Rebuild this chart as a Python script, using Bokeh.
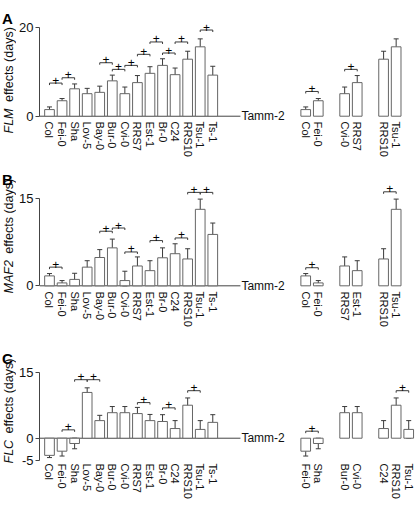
from math import pi
from bokeh.plotting import figure
from bokeh.models import ColumnDataSource, Whisker, TeeHead, Label, FixedTicker, Range1d
from bokeh.layouts import column, row
from bokeh.embed import file_html
from bokeh.resources import INLINE
from bokeh.core.properties import value

# ---------------- data ----------------
strains = ["Col", "Fei-0", "Sha", "Lov-5", "Bay-0", "Bur-0", "Cvi-0", "RRS7",
           "Est-1", "Br-0", "C24", "RRS10", "Tsu-1", "Ts-1"]
reference_line = "Tamm-2"

flm_mean = [1.5, 3.5, 6.2, 5.1, 5.4, 8.0, 5.1, 7.6, 9.7, 11.5, 9.4, 12.9, 15.7, 9.3]
flm_err = [0.6, 0.5, 1.1, 1.2, 1.4, 1.3, 1.5, 1.6, 1.5, 1.5, 1.5, 1.8, 1.8, 2.0]
flm_pairs = [("Col", "Fei-0"), ("Fei-0", "Sha"), ("Bay-0", "Bur-0"), ("Bur-0", "Cvi-0"),
             ("Cvi-0", "RRS7"), ("RRS7", "Est-1"), ("Est-1", "Br-0"), ("Br-0", "C24"),
             ("C24", "RRS10"), ("Tsu-1", "Ts-1")]
flm_pair_level = [7.5, 8.7, 12.1, 10.6, 11.5, 14.0, 16.8, 14.3, 16.8, 19.5]
flm_groups = [["Col", "Fei-0"], ["Cvi-0", "RRS7"], ["RRS10", "Tsu-1"]]
flm_group_pairs = [("Col", "Fei-0"), ("Cvi-0", "RRS7")]
flm_group_pair_level = [5.6, 10.6]

maf_mean = [1.7, 0.5, 1.1, 3.2, 4.85, 6.5, 0.9, 3.4, 2.6, 4.8, 5.5, 4.6, 13.1, 8.8]
maf_err = [0.4, 0.4, 1.05, 1.1, 1.35, 1.5, 1.6, 1.55, 1.7, 1.7, 1.7, 1.75, 1.75, 1.95]
maf_pairs = [("Col", "Fei-0"), ("Bay-0", "Bur-0"), ("Bur-0", "Cvi-0"), ("Cvi-0", "RRS7"),
             ("Est-1", "Br-0"), ("C24", "RRS10"), ("RRS10", "Tsu-1"), ("Tsu-1", "Ts-1")]
maf_pair_level = [3.2, 9.35, 9.9, 5.8, 7.75, 8.2, 16.0, 16.0]
maf_groups = [["Col", "Fei-0"], ["RRS7", "Est-1"], ["RRS10", "Tsu-1"]]
maf_group_pairs = [("Col", "Fei-0"), ("RRS10", "Tsu-1")]
maf_group_pair_level = [3.1, 16.1]

flc_mean = [-3.9, -2.95, -1.2, 10.4, 4.0, 5.8, 5.8, 5.6, 4.0, 3.8, 2.2, 7.5, 2.0, 3.6]
flc_err = [0.5, 1.1, 1.2, 1.05, 1.2, 1.4, 1.4, 1.4, 1.4, 1.55, 1.8, 1.65, 2.0, 1.75]
flc_pairs = [("Fei-0", "Sha"), ("Sha", "Lov-5"), ("Lov-5", "Bay-0"), ("RRS7", "Est-1"),
             ("Br-0", "C24"), ("RRS10", "Tsu-1")]
flc_pair_level = [1.9, 13.3, 13.3, 8.1, 6.9, 10.8]
flc_groups = [["Fei-0", "Sha"], ["Bur-0", "Cvi-0"], ["C24", "RRS10", "Tsu-1"]]
flc_group_pairs = [("Fei-0", "Sha"), ("RRS10", "Tsu-1")]
flc_group_pair_level = [1.6, 10.8]

# ---------------- style / layout ----------------
FONT = "Liberation Sans"
BAR_LINE = "#666666"
ERR_COLOR = "#3a3a3a"
AXIS_COLOR = "#444444"
TXT = "#111111"
SLOT = 10
BAR_W = 7.7
GROUP_START = 204
GROUP_STEP = 31
X_START = -7.96
X_END = 291.4
LAB_W = 16
MAIN_W = 399
BORDER_L = 23
# approximate advance widths (em) of Liberation Sans, used to butt the italic gene
# name against the plain part of the rotated axis title
EM = {"F": .611, "L": .556, "M": .833, "A": .667, "2": .556, "C": .722}
REST = "effects (days)"
REST_EM = 5.99
WIDTH_FIX = 1.08
YLAB_FS = 12.5


def label_column(letter, gene, height, frame_h, ylab_bottom, letter_y):
    """Narrow figure holding the panel letter and the rotated y-axis title.
    Its frame matches the main panel's frame; y is measured in pixels from the
    bottom of the canvas."""
    border_b = height - frame_h
    f = figure(width=LAB_W, height=height, title=None, output_backend="svg",
               toolbar_location=None, x_range=Range1d(0, LAB_W),
               y_range=Range1d(border_b, height),
               x_axis_location=None, y_axis_location=None,
               min_border=0, min_border_left=0, min_border_right=0,
               min_border_top=0, min_border_bottom=border_b)
    f.outline_line_color = None
    f.xgrid.visible = False
    f.ygrid.visible = False
    gw = sum(EM[c] for c in gene) * YLAB_FS
    sp = 0.278 * YLAB_FS
    rw = REST_EM * YLAB_FS * WIDTH_FIX
    cx = 8.0
    f.text(x=[cx], y=[ylab_bottom + gw / 2], text=[gene], angle=pi / 2, text_align="center",
           text_baseline="middle", text_font=value(FONT), text_font_style=value("italic"),
           text_font_size=f"{YLAB_FS}px", text_color=TXT)
    f.text(x=[cx], y=[ylab_bottom + gw + sp + rw / 2], text=[REST],
           angle=pi / 2, text_align="center", text_baseline="middle", text_font=value(FONT),
           text_font_size=f"{YLAB_FS}px", text_color=TXT)
    f.text(x=[1.5], y=[letter_y], text=[letter], text_align="left",
           text_baseline="alphabetic", text_font=value(FONT),
           text_font_style=value("bold"), text_font_size="15px", text_color="#000000")
    return f


def make_panel(means, errs, pairs, levels, groups, gpairs, glevels,
               ppu, y_end, height, frame_h, standoff, yticks, ybounds):
    y_start = y_end - frame_h / ppu
    border_b = height - frame_h
    p = figure(width=MAIN_W, height=height, title=None,
               x_range=Range1d(X_START, X_END), y_range=Range1d(y_start, y_end),
               output_backend="svg", toolbar_location=None,
               min_border_left=BORDER_L, min_border_right=0, min_border_top=0,
               min_border_bottom=border_b)
    p.outline_line_color = None
    p.xgrid.visible = False
    p.ygrid.visible = False

    idx = {s: i for i, s in enumerate(strains)}
    pos = {("main", s): i * SLOT for i, s in enumerate(strains)}
    xs = [i * SLOT for i in range(len(strains))]
    ms = list(means)
    es = list(errs)
    labs = list(strains)
    for k, grp in enumerate(groups):
        for j, s in enumerate(grp):
            x = GROUP_START + k * GROUP_STEP + j * SLOT
            pos[("grp", s)] = x
            xs.append(x)
            ms.append(means[idx[s]])
            es.append(errs[idx[s]])
            labs.append(s)

    # error bars do not cross the zero line (as in the original figure)
    upper = [min(m + e, 0) if m < 0 else m + e for m, e in zip(ms, es)]
    lower = [max(m - e, 0) if m > 0 else m - e for m, e in zip(ms, es)]
    src = ColumnDataSource(dict(x=xs, top=ms, upper=upper, lower=lower))

    # reference (Tamm-2) baseline
    line_end = (len(strains) - 1) * SLOT + 22
    p.segment(x0=[X_START], y0=[0], x1=[line_end], y1=[0], line_color=AXIS_COLOR, line_width=1)
    p.add_layout(Label(x=line_end, y=0, text=reference_line, x_offset=1,
                       text_baseline="middle", text_align="left",
                       text_font=FONT, text_font_size="12px", text_color=TXT))

    p.vbar(x="x", top="top", bottom=0, width=BAR_W, source=src,
           fill_color="white", line_color=BAR_LINE, line_width=1)
    p.add_layout(Whisker(source=src, base="x", upper="upper", lower="lower",
                         line_color=ERR_COLOR, line_width=1,
                         upper_head=TeeHead(size=5, line_color=ERR_COLOR, line_width=1),
                         lower_head=TeeHead(size=5, line_color=ERR_COLOR, line_width=1)))

    # significance brackets
    tick = 2.0 / ppu
    bx, by, px, py = [], [], [], []
    for kind, prs, lvs in (("main", pairs, levels), ("grp", gpairs, glevels)):
        for (a, b), lv in zip(prs, lvs):
            xa, xb = pos[(kind, a)], pos[(kind, b)]
            bx.append([xa, xa, xb, xb])
            by.append([lv - tick, lv, lv, lv - tick])
            px.append((xa + xb) / 2)
            py.append(lv)
    p.multi_line(xs=bx, ys=by, line_color=ERR_COLOR, line_width=1)
    p.text(x=px, y=py, text=["+"] * len(px), text_align="center", text_baseline="alphabetic",
           y_offset=-3, text_font=value(FONT), text_font_size="12px", text_color="#000000")

    # y axis
    ya = p.yaxis[0]
    ya.ticker = FixedTicker(ticks=yticks)
    ya.major_label_overrides = {t: str(t) for t in yticks}
    ya.bounds = ybounds
    ya.axis_line_color = AXIS_COLOR
    ya.major_tick_line_color = AXIS_COLOR
    ya.minor_tick_line_color = None
    ya.major_tick_out = 4
    ya.major_tick_in = 0
    ya.major_label_standoff = 2
    ya.major_label_text_font = FONT
    ya.major_label_text_font_size = "13px"
    ya.major_label_text_color = TXT

    # x axis (strain names)
    xa_ = p.xaxis[0]
    xa_.ticker = FixedTicker(ticks=xs)
    xa_.major_label_overrides = {x: l for x, l in zip(xs, labs)}
    xa_.major_label_orientation = "vertical"
    xa_.axis_line_color = None
    xa_.major_tick_line_color = None
    xa_.minor_tick_line_color = None
    xa_.major_tick_out = 0
    xa_.major_tick_in = 0
    xa_.major_label_standoff = standoff
    xa_.major_label_text_font = FONT
    xa_.major_label_text_font_size = "11px"
    xa_.major_label_text_color = TXT
    return p


hA, hB, hC = 160, 170, 176
fA, fB, fC = 135, 135, 136
pA = make_panel(flm_mean, flm_err, flm_pairs, flm_pair_level,
                flm_groups, flm_group_pairs, flm_group_pair_level,
                ppu=4.42, y_end=26.18, height=hA, frame_h=fA, standoff=-14,
                yticks=[0, 20], ybounds=(0, 20))
pB = make_panel(maf_mean, maf_err, maf_pairs, maf_pair_level,
                maf_groups, maf_group_pairs, maf_group_pair_level,
                ppu=5.84, y_end=21.46, height=hB, frame_h=fB, standoff=-4,
                yticks=[0, 15], ybounds=(0, 15))
pC = make_panel(flc_mean, flc_err, flc_pairs, flc_pair_level,
                flc_groups, flc_group_pairs, flc_group_pair_level,
                ppu=4.4, y_end=24.48, height=hC, frame_h=fC, standoff=-3,
                yticks=[-5, 0, 15], ybounds=(-5, 15))

lA = label_column("A", "FLM", hA, fA, ylab_bottom=27, letter_y=142.5)
lB = label_column("B", "MAF2", hB, fB, ylab_bottom=37, letter_y=151.5)
lC = label_column("C", "FLC", hC, fC, ylab_bottom=43, letter_y=148.5)

layout = column(row(lA, pA, spacing=0), row(lB, pB, spacing=0), row(lC, pC, spacing=0),
                spacing=0)
open("out.html", "w").write(file_html(layout, INLINE))
